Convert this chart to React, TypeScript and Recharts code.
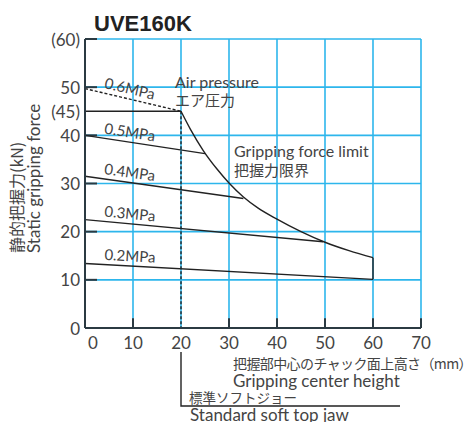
import React from 'react';
import { ComposedChart, Line, XAxis, YAxis, CartesianGrid, ReferenceLine } from 'recharts';

// UVE160K static gripping force vs gripping center height
const X_TICKS = [0, 10, 20, 30, 40, 50, 60, 70];
const Y_TICKS = [0, 10, 20, 30, 40, 45, 50, 60];
const GRID_X = [10, 20, 30, 40, 50, 60, 70];
const GRID_Y = [10, 20, 30, 40, 50, 60];
const Y_TICK_MARKS = [10, 20, 30, 40, 50, 60];
const X_TICK_MARKS = [10, 30, 40, 50, 60, 70];

const P06 = [{ x: 0, y: 49.7 }, { x: 20, y: 45 }];
const P05 = [{ x: 0, y: 40 }, { x: 25, y: 36.2 }];
const P04 = [{ x: 0, y: 31.5 }, { x: 33, y: 26.9 }];
const P03 = [{ x: 0, y: 22.5 }, { x: 49.6, y: 17.9 }];
const P02 = [{ x: 0, y: 13.4 }, { x: 60, y: 10.1 }];
const CAP45 = [{ x: 0, y: 45 }, { x: 20, y: 45 }];
const STD_JAW = [{ x: 20, y: 45 }, { x: 20, y: 0 }];
const LIMIT = [
  { x: 20, y: 45 }, { x: 22, y: 41.2 }, { x: 24.6, y: 36.9 }, { x: 27.5, y: 33.0 },
  { x: 30, y: 30.1 }, { x: 33, y: 27.2 }, { x: 36, y: 24.95 }, { x: 40, y: 22.6 },
  { x: 45, y: 20.0 }, { x: 50, y: 17.8 }, { x: 55, y: 16.05 }, { x: 60, y: 14.6 },
];
const LIMIT_END = [{ x: 60, y: 14.6 }, { x: 60, y: 10.1 }];

const BLUE = '#2db6ec';
const AXIS = '#2b3a42';
const LINE = '#222';
const TXT = '#444';
const FONT = "Lato, 'Noto Sans CJK JP', sans-serif";
const JP = "'Noto Sans CJK JP', sans-serif";

const W = 472;
const H = 422;

function XTick({ x, y, payload }: any) {
  const v = payload.value;
  return (
    <text x={x + (v === 0 ? 8 : 0)} y={y} dy="0.71em" textAnchor="middle" fontSize={17} fill={TXT} fontFamily={FONT}>
      {v}
    </text>
  );
}

function YTick({ x, y, payload }: any) {
  const v = payload.value;
  const t = v === 60 || v === 45 ? `(${v})` : `${v}`;
  return (
    <text x={x} y={y} textAnchor="end" dominantBaseline="central" fontSize={17} fill={TXT} fontFamily={FONT}>
      {t}
    </text>
  );
}

// pressure label placed just above the start of its line, tilted along it
const mpaLabel = (text: string, angle: number) => (props: any) => {
  if (props.index !== 0) return null;
  const cx = props.x + 45;
  const cy = props.y + 45 * Math.tan((angle * Math.PI) / 180) - 11;
  return (
    <text
      x={cx}
      y={cy}
      textAnchor="middle"
      dominantBaseline="central"
      fontSize={15}
      fill={TXT}
      fontFamily={FONT}
      transform={`rotate(${angle}, ${cx}, ${cy})`}
    >
      {text}
    </text>
  );
};

export default function App() {
  const lp = { type: 'linear' as const, dataKey: 'y', stroke: LINE, strokeWidth: 1.4, dot: false, isAnimationActive: false };
  return (
    <div style={{ position: 'absolute', left: 0, top: 0, width: W, height: H, background: '#fff' }}>
      <ComposedChart width={W} height={H} margin={{ top: 39, right: 51, bottom: 64, left: 45 }}>
        <CartesianGrid horizontalValues={GRID_Y} verticalValues={GRID_X} stroke={BLUE} strokeWidth={1.6} />
        <XAxis
          dataKey="x"
          type="number"
          domain={[0, 70]}
          ticks={X_TICKS}
          height={30}
          tickSize={0}
          tickMargin={9}
          tickLine={false}
          axisLine={{ stroke: AXIS, strokeWidth: 2 }}
          tick={<XTick />}
          allowDataOverflow
        />
        <YAxis
          type="number"
          domain={[0, 60]}
          ticks={Y_TICKS}
          width={40}
          tickSize={0}
          tickMargin={5}
          tickLine={false}
          axisLine={{ stroke: AXIS, strokeWidth: 2 }}
          tick={<YTick />}
          interval={0}
          allowDataOverflow
        />
        {Y_TICK_MARKS.map((v) => (
          <ReferenceLine key={'yt' + v} segment={[{ x: 0, y: v }, { x: 2.5, y: v }]} stroke={AXIS} strokeWidth={2} />
        ))}
        {X_TICK_MARKS.map((v) => (
          <ReferenceLine key={'xt' + v} segment={[{ x: v, y: 0 }, { x: v, y: 2 }]} stroke={AXIS} strokeWidth={2} />
        ))}
        <Line {...lp} data={P06} strokeDasharray="3 2" label={mpaLabel('0.6MPa', 13)} />
        <Line {...lp} data={CAP45} />
        <Line {...lp} data={STD_JAW} strokeDasharray="3 2" />
        <Line {...lp} data={P05} label={mpaLabel('0.5MPa', 9)} />
        <Line {...lp} data={P04} label={mpaLabel('0.4MPa', 8)} />
        <Line {...lp} data={P03} label={mpaLabel('0.3MPa', 5.5)} />
        <Line {...lp} data={P02} label={mpaLabel('0.2MPa', 3.5)} />
        <Line {...lp} data={LIMIT} type="monotone" />
        <Line {...lp} data={LIMIT_END} />
      </ComposedChart>
      <svg width={W} height={H} style={{ position: 'absolute', left: 0, top: 0, pointerEvents: 'none' }}>
        <text x={94} y={31} fontSize={22} fontWeight="bold" fill="#222" fontFamily="'Liberation Sans', Arial, sans-serif">
          UVE160K
        </text>
        <text x={175} y={88} fontSize={16} fill={TXT} fontFamily={FONT}>Air pressure</text>
        <text x={175} y={106} fontSize={15} fill={TXT} fontFamily={JP}>エア圧力</text>
        <text x={234} y={157} fontSize={16} fill={TXT} fontFamily={FONT}>Gripping force limit</text>
        <text x={234} y={176} fontSize={15} fill={TXT} fontFamily={JP}>把握力限界</text>
        <text x={23} y={253} fontSize={16} fill={TXT} fontFamily={JP} transform="rotate(-90, 23, 253)">
          静的把握力(kN)
        </text>
        <text x={40} y={253} fontSize={17} fill={TXT} fontFamily={FONT} transform="rotate(-90, 40, 253)">
          Static gripping force
        </text>
        <text x={233} y={369} fontSize={14} letterSpacing={-0.6} fill={TXT} fontFamily={JP}>
          把握部中心のチャック面上高さ（mm）
        </text>
        <text x={233} y={387} fontSize={17} fill={TXT} fontFamily={FONT}>Gripping center height</text>
        <text x={189} y={403} fontSize={13.5} fill={TXT} fontFamily={JP}>標準ソフトジョー</text>
        <text x={190} y={421} fontSize={17} fill={TXT} fontFamily={FONT}>Standard soft top jaw</text>
        <polyline points="181,352 181,406 400,406" fill="none" stroke={LINE} strokeWidth={1.4} />
      </svg>
    </div>
  );
}
